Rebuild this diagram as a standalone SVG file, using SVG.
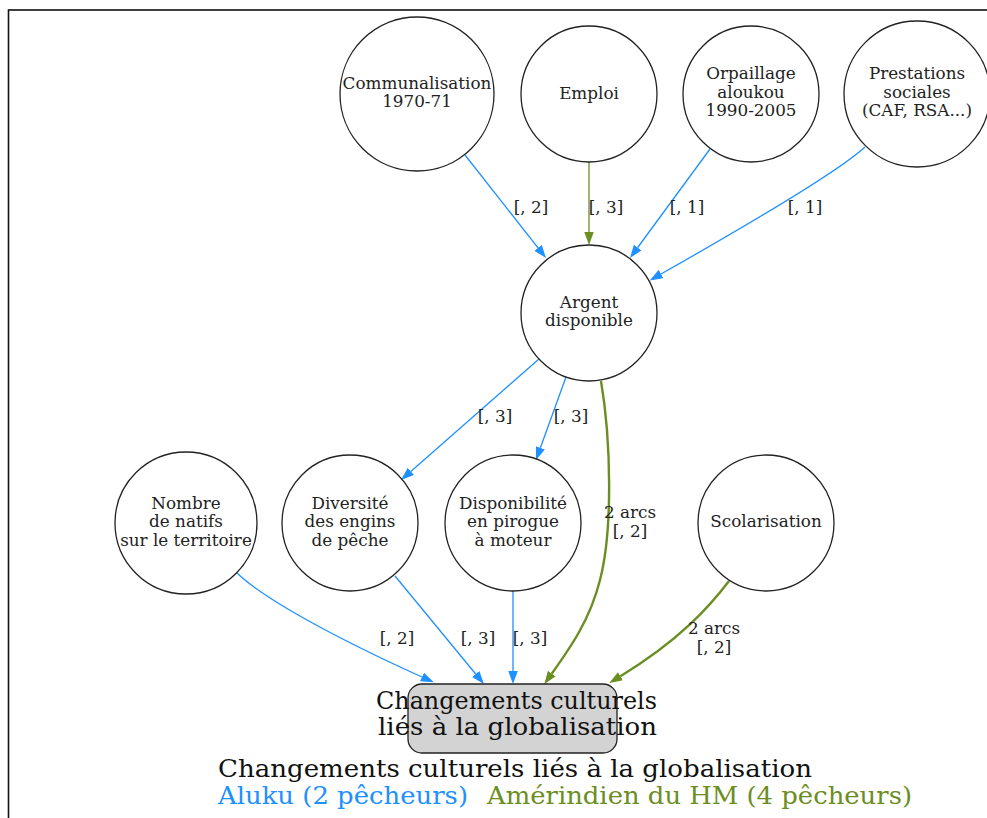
<svg xmlns="http://www.w3.org/2000/svg" width="987" height="818" viewBox="0 0 987 818">
<defs>
<style>
.n circle{fill:#fff;stroke:#222;stroke-width:1.3}
.n text,.lbl{font-family:"DejaVu Serif",serif;font-size:16.8px;fill:#222;text-anchor:middle}
.e{fill:none;stroke-width:1.3}
.b{stroke:#1e90ff}
.g{stroke:#6b8e23}
.gt{stroke:#6b8e23;stroke-width:2.4}
.big{font-family:"DejaVu Serif",serif;font-size:25px}
</style>
<marker id="ab" markerUnits="userSpaceOnUse" markerWidth="14" markerHeight="10" refX="0" refY="4.75" orient="auto"><path d="M0,0 L13,4.75 L0,9.5 z" fill="#1e90ff"/></marker>
<marker id="ag" markerUnits="userSpaceOnUse" markerWidth="14" markerHeight="10" refX="0" refY="4.75" orient="auto"><path d="M0,0 L13,4.75 L0,9.5 z" fill="#6b8e23"/></marker>
</defs>
<rect x="8.5" y="10" width="990" height="820" fill="#fff" stroke="#111" stroke-width="1.6"/>
<g id="edges">
<path class="e b" d="M465,155 L538,247.8" marker-end="url(#ab)"/>
<path class="e g" d="M589,162 L589,232" marker-end="url(#ag)"/>
<path class="e b" d="M710,149 L637.7,247.5" marker-end="url(#ab)"/>
<path class="e b" d="M865,147 C840,170 760,218 661,274" marker-end="url(#ab)"/>
<path class="e b" d="M539,359 L410.8,471.4" marker-end="url(#ab)"/>
<path class="e b" d="M566,377 L540.4,447.8" marker-end="url(#ab)"/>
<path class="e gt" d="M601,381 C611,440 613,530 600,580 C590,620 570,648 551.8,673.6" marker-end="url(#ag)"/>
<path class="e gt" d="M729,581 C710,606 680,640 620.4,676.2" marker-end="url(#ag)"/>
<path class="e b" d="M237,573 C265,600 340,640 422,677" marker-end="url(#ab)"/>
<path class="e b" d="M395,576 L475.7,674" marker-end="url(#ab)"/>
<path class="e b" d="M513,591 L513,671" marker-end="url(#ab)"/>
<text class="lbl" x="531" y="213">[, 2]</text>
<text class="lbl" x="606" y="213">[, 3]</text>
<text class="lbl" x="687" y="213">[, 1]</text>
<text class="lbl" x="805" y="213">[, 1]</text>
<text class="lbl" x="495" y="422">[, 3]</text>
<text class="lbl" x="571" y="422">[, 3]</text>
<text class="lbl" x="630" y="518">2 arcs</text>
<text class="lbl" x="630" y="537">[, 2]</text>
<text class="lbl" x="397" y="644">[, 2]</text>
<text class="lbl" x="478" y="644">[, 3]</text>
<text class="lbl" x="530" y="644">[, 3]</text>
<text class="lbl" x="714" y="634">2 arcs</text>
<text class="lbl" x="714" y="653">[, 2]</text>
</g>
<g id="communalisation" class="n"><circle cx="417" cy="94" r="77"/><text x="417" y="89">Communalisation</text><text x="417" y="107">1970-71</text></g>
<g id="emploi" class="n"><circle cx="589" cy="94" r="68"/><text x="589" y="99">Emploi</text></g>
<g id="orpaillage" class="n"><circle cx="751" cy="94" r="68"/><text x="751" y="79">Orpaillage</text><text x="751" y="98">aloukou</text><text x="751" y="116">1990-2005</text></g>
<g id="prestations" class="n"><circle cx="917" cy="94" r="73"/><text x="917" y="79">Prestations</text><text x="917" y="98">sociales</text><text x="917" y="116">(CAF, RSA...)</text></g>
<g id="argent" class="n"><circle cx="589" cy="313" r="68"/><text x="589" y="308">Argent</text><text x="589" y="326">disponible</text></g>
<g id="nombre" class="n"><circle cx="186" cy="523" r="71"/><text x="186" y="509">Nombre</text><text x="186" y="527">de natifs</text><text x="186" y="546">sur le territoire</text></g>
<g id="diversite" class="n"><circle cx="350" cy="523" r="68"/><text x="350" y="509">Diversité</text><text x="350" y="527">des engins</text><text x="350" y="546">de pêche</text></g>
<g id="disponibilite" class="n"><circle cx="513" cy="523" r="68"/><text x="513" y="509">Disponibilité</text><text x="513" y="527">en pirogue</text><text x="513" y="546">à moteur</text></g>
<g id="scolarisation" class="n"><circle cx="766" cy="523" r="68"/><text x="766" y="527">Scolarisation</text></g>
<g id="changements"><rect x="408" y="684" width="209" height="69" rx="14" fill="#d3d3d3" stroke="#222" stroke-width="1.3"/>
<text class="big" x="376" y="709" textLength="281" lengthAdjust="spacingAndGlyphs" fill="#111">Changements culturels</text>
<text class="big" x="378" y="735" textLength="279" lengthAdjust="spacingAndGlyphs" fill="#111">liés à la globalisation</text></g>
<g id="legend">
<text class="big" x="218" y="777" textLength="594" lengthAdjust="spacingAndGlyphs" fill="#111">Changements culturels liés à la globalisation</text>
<text class="big" x="218" y="804" textLength="250" lengthAdjust="spacingAndGlyphs" fill="#1e90ff">Aluku (2 pêcheurs)</text>
<text class="big" x="487" y="804" textLength="425" lengthAdjust="spacingAndGlyphs" fill="#6b8e23">Amérindien du HM (4 pêcheurs)</text>
</g>
</svg>
